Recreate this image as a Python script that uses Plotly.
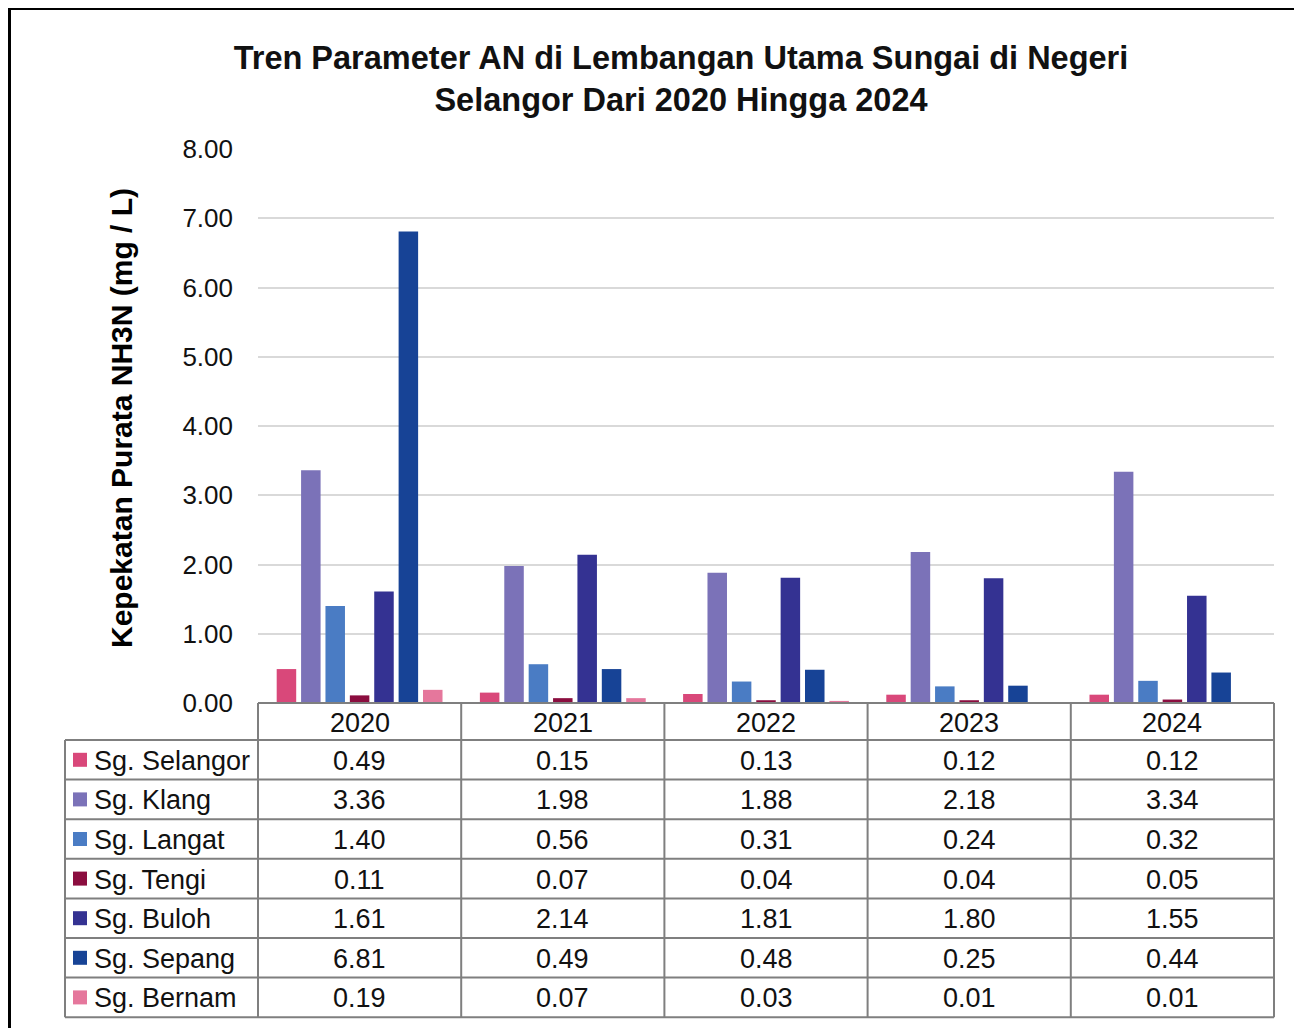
import plotly.graph_objects as go

years = ["2020", "2021", "2022", "2023", "2024"]
rivers = ["Sg. Selangor", "Sg. Klang", "Sg. Langat", "Sg. Tengi",
          "Sg. Buloh", "Sg. Sepang", "Sg. Bernam"]
values = [
    [0.49, 0.15, 0.13, 0.12, 0.12],
    [3.36, 1.98, 1.88, 2.18, 3.34],
    [1.40, 0.56, 0.31, 0.24, 0.32],
    [0.11, 0.07, 0.04, 0.04, 0.05],
    [1.61, 2.14, 1.81, 1.80, 1.55],
    [6.81, 0.49, 0.48, 0.25, 0.44],
    [0.19, 0.07, 0.03, 0.01, 0.01],
]
colors = ["#D9487A", "#7B72B8", "#4A7CC4", "#8B0D3F",
          "#343292", "#174396", "#E5779C"]
yticks = [0, 1, 2, 3, 4, 5, 6, 7, 8]

O = 8  # page margin of the browser
W, H = 1302 - O, 1028 - O
L, R, T, B = 258, 1274, 149, 703  # plot area, page pixels


def px(x):
    return (x - L) / (R - L)


def py(y):
    return (B - y) / (B - T)


fig = go.Figure()
for name, vals, c in zip(rivers, values, colors):
    fig.add_trace(go.Bar(x=years, y=vals, name=name, marker_color=c,
                         marker_line_width=0))

font = "Liberation Sans, Arial, sans-serif"
grid = "#7f7f7f"
tsize = 27
shapes = []
ann = []


def text(x, y, s, size=tsize, xanchor="center"):
    ann.append(dict(x=px(x), y=py(y), xref="paper", yref="paper", text=s,
                    showarrow=False, xanchor=xanchor, yanchor="middle",
                    font=dict(size=size, color="#111")))


def line(x0, y0, x1, y1):
    shapes.append(dict(type="line", xref="paper", yref="paper",
                       x0=px(x0), x1=px(x1), y0=py(y0), y1=py(y1),
                       line=dict(color=grid, width=2)))


# data table below the chart
head_h = 37
row_h = 39.6
left = 65
col_w = (R - L) / len(years)
rows_top = B + head_h
bottom = rows_top + row_h * len(rivers)

line(L, B, R, B)
line(R, B, R, bottom)
line(L, B, L, bottom)
line(left, rows_top, left, bottom)
line(left, bottom, R, bottom)
for i, yr in enumerate(years):
    if i > 0:
        line(L + col_w * i, B, L + col_w * i, bottom)
    text(L + col_w * (i + 0.5), B + head_h / 2 + 1, yr)

for r, (name, vals, c) in enumerate(zip(rivers, values, colors)):
    y0 = rows_top + row_h * r
    cy = y0 + row_h / 2
    line(left, y0, R, y0)
    shapes.append(dict(type="rect", xref="paper", yref="paper",
                       x0=px(73), x1=px(87), y0=py(cy - 7), y1=py(cy + 7),
                       fillcolor=c, line=dict(width=0)))
    text(92, cy + 1, name, xanchor="left")
    for i, v in enumerate(vals):
        text(L + col_w * (i + 0.5), cy + 1, f"{v:.2f}")

# y axis title
ann.append(dict(x=px(121), y=py(418), xref="paper", yref="paper",
                text="<b>Kepekatan Purata NH3N (mg / L)</b>", textangle=-90,
                showarrow=False, xanchor="center", yanchor="middle",
                font=dict(size=30, color="#000")))

# outer frame (left + top)
shapes.append(dict(type="line", xref="paper", yref="paper",
                   x0=px(9.5), x1=px(9.5), y0=py(7), y1=py(1040),
                   line=dict(color="#000", width=3)))
shapes.append(dict(type="line", xref="paper", yref="paper",
                   x0=px(8), x1=px(1310), y0=py(8.5), y1=py(8.5),
                   line=dict(color="#000", width=3)))

fig.update_layout(
    width=W, height=H,
    margin=dict(l=L - O, r=W - (R - O), t=T - O, b=H - (B - O)),
    paper_bgcolor="white", plot_bgcolor="white",
    font=dict(family=font, color="#111"),
    title=dict(text="<b>Tren Parameter AN di Lembangan Utama Sungai di Negeri<br>"
                    "Selangor Dari 2020 Hingga 2024</b>",
               xref="container", yref="container",
               x=(681 - O) / W, y=1 - (69.5 - 9) / H,
               xanchor="center", yanchor="middle",
               font=dict(size=32.5, color="#111")),
    barmode="group", bargap=0.16, bargroupgap=0.2,
    showlegend=False,
    xaxis=dict(showticklabels=False, showgrid=False, ticks="",
               showline=False),
    yaxis=dict(range=[0, 8], tickvals=yticks,
               ticktext=[f"{v:.2f}" for v in yticks],
               showgrid=True, gridcolor="#d9d9d9", gridwidth=1.5,
               zeroline=False, showline=False, ticks="",
               ticklabelstandoff=24, tickfont=dict(size=26, color="#111")),
    shapes=shapes, annotations=ann,
)

fig.write_html("out.html")
